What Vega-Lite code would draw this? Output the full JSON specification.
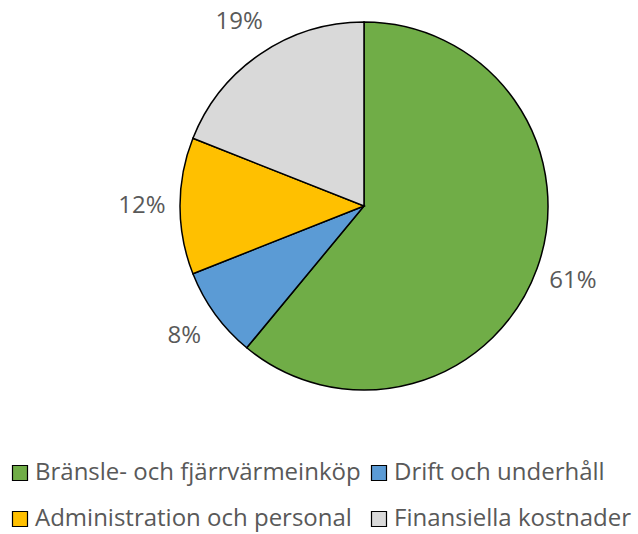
{
  "$schema": "https://vega.github.io/schema/vega-lite/v6.json",
  "autosize": "none",
  "width": 548,
  "height": 412,
  "padding": {"left": 90, "top": 0, "right": 0, "bottom": 122},
  "background": "white",
  "config": {"view": {"stroke": null}},
  "data": {
    "values": [
      {"kategori": "Bränsle- och fjärrvärmeinköp", "andel": 61, "etikett": "61%", "ordning": 1},
      {"kategori": "Drift och underhåll", "andel": 8, "etikett": "8%", "ordning": 2},
      {"kategori": "Administration och personal", "andel": 12, "etikett": "12%", "ordning": 3},
      {"kategori": "Finansiella kostnader", "andel": 19, "etikett": "19%", "ordning": 4}
    ]
  },
  "encoding": {
    "theta": {"field": "andel", "type": "quantitative", "stack": true},
    "order": {"field": "ordning", "type": "quantitative"}
  },
  "layer": [
    {
      "mark": {"type": "arc", "outerRadius": 184, "stroke": "black", "strokeWidth": 1.5},
      "encoding": {
        "color": {
          "field": "kategori",
          "type": "nominal",
          "scale": {
            "domain": ["Bränsle- och fjärrvärmeinköp", "Drift och underhåll", "Administration och personal", "Finansiella kostnader"],
            "range": ["#70AD47", "#5B9BD5", "#FFC000", "#D9D9D9"]
          },
          "legend": {
            "title": null,
            "orient": "none",
            "legendX": -82,
            "legendY": 461,
            "direction": "horizontal",
            "columns": 2,
            "gridAlign": "none",
            "columnPadding": 6,
            "rowPadding": 22,
            "symbolType": "square",
            "symbolSize": 225,
            "symbolStrokeColor": "black",
            "symbolStrokeWidth": 1.2,
            "labelFont": "Open Sans",
            "labelFontSize": 24,
            "labelColor": "#595959",
            "labelOffset": 3,
            "labelLimit": 400
          }
        }
      }
    },
    {
      "mark": {"type": "text", "radius": 222, "font": "Open Sans", "fontSize": 24, "color": "#595959"},
      "encoding": {
        "text": {"field": "etikett", "type": "nominal"}
      }
    }
  ]
}
